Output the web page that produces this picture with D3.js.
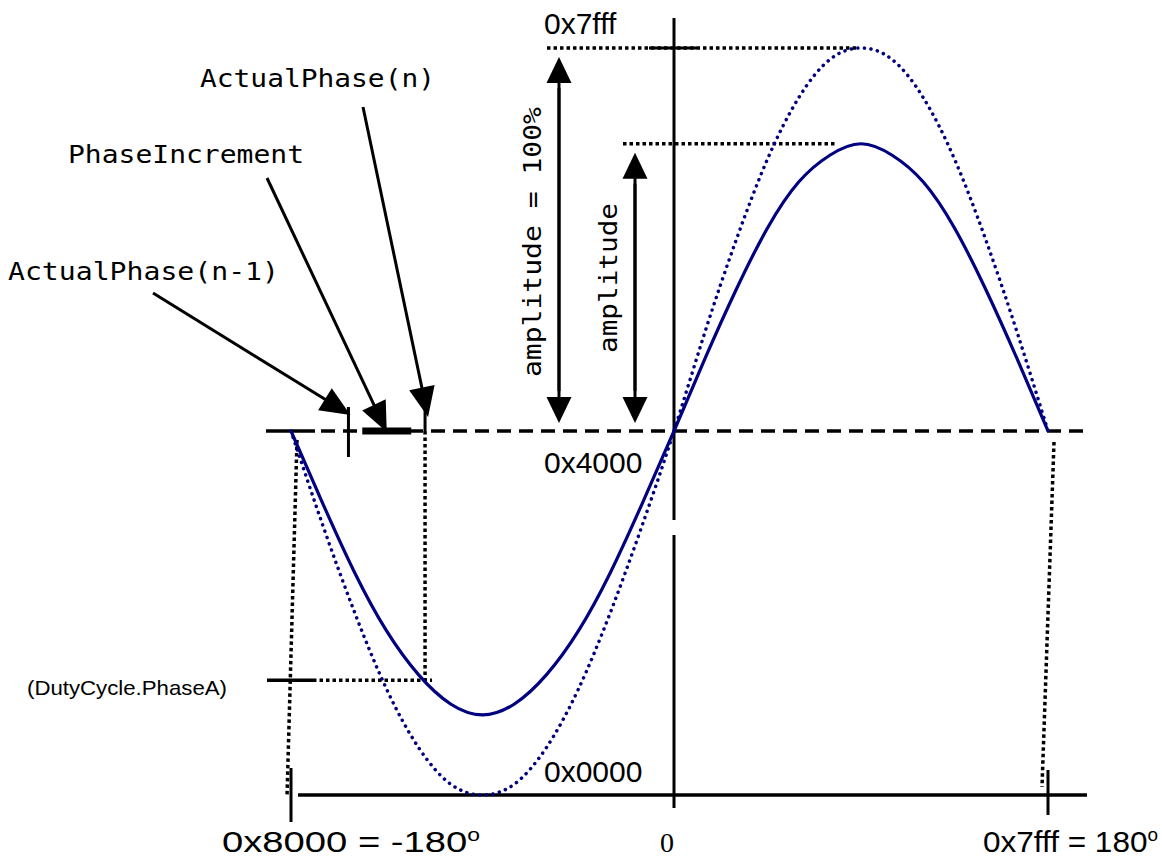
<!DOCTYPE html>
<html>
<head>
<meta charset="utf-8">
<script src="https://cdnjs.cloudflare.com/ajax/libs/d3/7.8.5/d3.min.js"></script>
<style>
    body { margin: 0; background: #fff; }
    .mono { font-family: "DejaVu Sans Mono", monospace; font-size: 25px; fill: #000; }
    .sans { font-family: "Liberation Sans", Arial, sans-serif; fill: #000; }
    .narrow { font-family: "Liberation Sans Narrow", "Liberation Sans", sans-serif; font-size: 30px; fill: #000; }
</style>
</head>
<body>
<svg id="chart" width="1162" height="858"></svg>
<script>
    // phase in degrees, values in % of half range around 0x4000
    var phases = [-180, -165, -150, -135, -120, -105, -90, -75, -60, -45, -30, -15, 0,
                  15, 30, 45, 60, 75, 90, 105, 120, 135, 150, 165, 180];
    var fullScale = [0, -26, -50, -71, -87, -97, -100, -97, -87, -71, -50, -26, 0,
                     26, 50, 71, 87, 97, 100, 97, 87, 71, 50, 26, 0];
    var scaled = [0, -20, -39, -55, -67, -75, -78, -75, -67, -55, -39, -20, 0,
                  19, 37, 53, 65, 72, 75, 72, 65, 53, 37, 19, 0];

    var phaseTicks = [-180, 0, 180];
    var phaseLabels = ["0x8000 = -180", "0", "0x7fff = 180"];
    var levels = [100, 0, -100];
    var levelLabels = ["0x7fff", "0x4000", "0x0000"];

    var amplitude = 75;
    var prevPhase = -153, nextPhase = -117;
    var dutyLevel = -68.5;

    var navy = "#000080";
    var svg = d3.select("#chart");

    var x = d3.scaleLinear().domain([-180, 0, 180]).range([291, 674, 1048]);
    var y = d3.scaleLinear().domain([-100, 0, 100]).range([795, 431, 48]);

    var dots = "3.5,3";

    function line(x1, y1, x2, y2, w, dash) {
        var l = svg.append("line")
            .attr("x1", x1).attr("y1", y1).attr("x2", x2).attr("y2", y2)
            .attr("stroke", "#000").attr("stroke-width", w || 3);
        if (dash) l.attr("stroke-dasharray", dash);
        return l;
    }

    function head(tx, ty, fx, fy, len, hw) {
        var a = Math.atan2(ty - fy, tx - fx);
        var bx = tx - len * Math.cos(a), by = ty - len * Math.sin(a);
        var px = -Math.sin(a) * hw, py = Math.cos(a) * hw;
        svg.append("polygon")
            .attr("points", [[tx, ty], [bx + px, by + py], [bx - px, by - py]].join(" "))
            .attr("fill", "#000");
    }

    function arrow(fx, fy, tx, ty, len, hw) {
        var a = Math.atan2(ty - fy, tx - fx);
        line(fx, fy, tx - (len - 2) * Math.cos(a), ty - (len - 2) * Math.sin(a), 3);
        head(tx, ty, fx, fy, len, hw);
    }

    // baseline 0x4000
    line(x(-180) - 25, y(0), x(-180) + 24, y(0), 3.5);
    line(x(-180) + 30, y(0), 1088, y(0), 3.5, "14,8");

    // centre vertical and bottom axis
    line(x(0), 18, x(0), 520, 3);
    line(x(0), 535, x(0), 808, 3);
    line(x(-180) + 7, y(-100), 1087, y(-100), 3.5);
    line(x(-180), 768, x(-180), 822, 3);
    line(x(180), 770, x(180), 815, 3);

    // dotted drops at +-180
    line(x(-180) + 6, y(0) + 9, x(-180) - 4, y(-100) + 2, 3.5, dots);
    line(x(180) + 6, y(0) + 11, x(180) - 6, y(-100) - 8, 3.5, dots);

    // level lines
    line(547, y(100), x(90) - 4, y(100), 3.5, dots);
    line(649, y(100), 697, y(100), 3);
    line(623, y(amplitude), 837, y(amplitude), 3.5, dots);

    // amplitude arrows
    arrow(559, y(0) - 40, 559, y(100) + 9, 26, 12.5);
    arrow(559, y(100) + 40, 559, y(0) - 8, 26, 12.5);
    arrow(635, y(0) - 40, 635, y(amplitude) + 9, 26, 12.5);
    arrow(635, y(amplitude) + 40, 635, y(0) - 8, 26, 12.5);

    // phase step markers
    line(x(prevPhase), y(0) - 24, x(prevPhase), y(0) + 26, 3);
    line(x(prevPhase + 6.5), y(0), x(nextPhase - 6.5), y(0), 7);
    line(x(nextPhase), y(0) - 30, x(nextPhase), y(0), 3);
    line(x(nextPhase), y(0), x(nextPhase), y(dutyLevel), 3.5, dots);
    line(x(-180) - 24, y(dutyLevel), x(-180) + 22, y(dutyLevel), 3.5);
    line(x(-180) + 22, y(dutyLevel), x(nextPhase) + 7, y(dutyLevel), 3.5, dots);

    // pointer arrows
    arrow(153, 293, x(prevPhase) + 2, y(0) - 16, 30, 13);
    arrow(267, 178, (x(prevPhase + 6.5) + x(nextPhase - 6.5)) / 2, y(0) + 1, 30, 13);
    arrow(363, 107, x(nextPhase) + 3, y(0) - 14, 30, 13);

    // curves
    var path = d3.line()
        .x(function(d) { return x(d[0]); })
        .y(function(d) { return y(d[1]); })
        .curve(d3.curveNatural);

    svg.append("path")
        .datum(d3.zip(phases, fullScale))
        .attr("d", path)
        .attr("fill", "none")
        .attr("stroke", navy)
        .attr("stroke-width", 3.5)
        .attr("stroke-linecap", "round")
        .attr("stroke-dasharray", "0.1,6.5");

    svg.append("path")
        .datum(d3.zip(phases, scaled))
        .attr("d", path)
        .attr("fill", "none")
        .attr("stroke", navy)
        .attr("stroke-width", 3.2);

    // labels
    svg.append("text").attr("class", "mono").attr("x", 200).attr("y", 87)
        .attr("textLength", 235).attr("lengthAdjust", "spacingAndGlyphs").text("ActualPhase(n)");
    svg.append("text").attr("class", "mono").attr("x", 68).attr("y", 163)
        .attr("textLength", 236).attr("lengthAdjust", "spacingAndGlyphs").text("PhaseIncrement");
    svg.append("text").attr("class", "mono").attr("x", 8).attr("y", 280)
        .attr("textLength", 271).attr("lengthAdjust", "spacingAndGlyphs").text("ActualPhase(n-1)");

    svg.append("text").attr("class", "mono")
        .attr("transform", "translate(541,377) rotate(-90)")
        .attr("textLength", 270).attr("lengthAdjust", "spacingAndGlyphs").text("amplitude = 100%");
    svg.append("text").attr("class", "mono")
        .attr("transform", "translate(617,353) rotate(-90)")
        .attr("textLength", 150).attr("lengthAdjust", "spacingAndGlyphs").text("amplitude");

    svg.append("text").attr("class", "sans").attr("x", 27).attr("y", 695)
        .style("font-size", "21px")
        .attr("textLength", 200).attr("lengthAdjust", "spacingAndGlyphs").text("(DutyCycle.PhaseA)");

    var levelY = [34, 473, 782];
    svg.selectAll("text.level")
        .data(levels)
        .enter().append("text")
        .attr("class", "sans level")
        .style("font-size", "30px")
        .attr("x", 544)
        .attr("y", function(d, i) { return levelY[i]; })
        .text(function(d, i) { return levelLabels[i]; });

    // phase labels
    var labelX = [222, 660, 983];
    var labelW = [258, 12, 175];
    phaseTicks.forEach(function(p, i) {
        var t = svg.append("text")
            .attr("x", labelX[i])
            .attr("y", 852);
        if (p === 0) {
            t.attr("font-family", "Liberation Serif, serif").style("font-size", "28px").text(phaseLabels[i]);
        } else {
            t.attr("class", "narrow")
                .attr("textLength", labelW[i]).attr("lengthAdjust", "spacingAndGlyphs");
            t.append("tspan").text(phaseLabels[i]);
            t.append("tspan").attr("dy", -11).style("font-size", "18px").text("o");
        }
    });
</script>
</body>
</html>
